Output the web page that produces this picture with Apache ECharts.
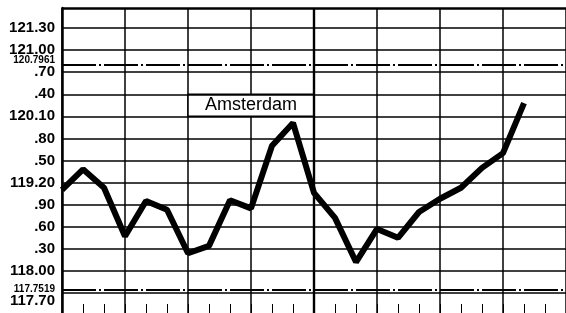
<!DOCTYPE html>
<html>
<head>
<meta charset="utf-8">
<script src="https://cdn.jsdelivr.net/npm/echarts@6/dist/echarts.min.js"></script>
<style>
  html, body { margin: 0; padding: 0; background: #fff; }
  #chart { width: 566px; height: 313px; }
</style>
</head>
<body>
<div id="chart"></div>
<script>
// x positions (25 slots, 3 per grid column)
var periods = ['1', '2', '3', '4', '5', '6', '7', '8', '9', '10', '11', '12', '13',
  '14', '15', '16', '17', '18', '19', '20', '21', '22', '23', '24', '25'];
// Amsterdam values
var amsterdam = [119.10, 119.38, 119.13, 118.47, 118.95, 118.83, 118.24, 118.34, 118.96, 118.85,
  119.70, 120.01, 119.06, 118.72, 118.12, 118.57, 118.45, 118.80, 118.98, 119.13, 119.40, 119.60, 120.28];
// horizontal levels and their labels
var yLevels = [121.30, 121.00, 120.7961, 120.70, 120.40, 120.10, 119.80, 119.50, 119.20,
  118.90, 118.60, 118.30, 118.00, 117.7519, 117.70];
var yLabels = ['121.30', '121.00', '120.7961', '.70', '.40', '120.10', '.80', '.50', '119.20',
  '.90', '.60', '.30', '118.00', '117.7519', '117.70'];
var specialLevels = [120.7961, 117.7519];
var seriesName = 'Amsterdam';
var boxFrom = '7', boxTo = '13', boxTop = 120.40, boxBottom = 120.10;
var midColumn = '13';

var chart = echarts.init(document.getElementById('chart'), null, { renderer: 'canvas' });

var levelLines = yLevels.map(function (v, i) {
  var special = specialLevels.indexOf(v) >= 0;
  var va = 'middle';
  if (yLabels[i] === '117.70') va = 'top';
  if (yLabels[i] === '120.7961') va = 'bottom';
  return {
    yAxis: v,
    lineStyle: special ? { color: '#000', width: 2.2, type: [34, 3, 2, 3] } : { color: '#000', width: 1.5, type: 'solid' },
    label: {
      show: true,
      position: 'start',
      distance: 7,
      formatter: yLabels[i],
      fontFamily: 'Liberation Sans, Arial, sans-serif',
      fontSize: special ? 10 : 15,
      fontWeight: 'bold',
      color: '#000',
      verticalAlign: va
    }
  };
});
// top border and thick middle column line
levelLines.push({ yAxis: 121.572, lineStyle: { color: '#000', width: 2.5, type: 'solid' }, label: { show: false } });
levelLines.push({ xAxis: midColumn, lineStyle: { color: '#000', width: 2.4, type: 'solid' }, label: { show: false } });

var option = {
  animation: false,
  backgroundColor: '#fff',
  grid: { left: 62, right: 0, top: 8, bottom: 0, containLabel: false },
  xAxis: {
    type: 'category',
    data: periods,
    boundaryGap: false,
    axisLine: { show: false },
    axisTick: { show: true, inside: true, length: 9, interval: 0, lineStyle: { color: '#000', width: 1 } },
    axisLabel: { show: false },
    splitLine: {
      show: true,
      interval: function (index) { return index % 3 === 0; },
      lineStyle: { color: '#000', width: 1.5 }
    }
  },
  yAxis: {
    type: 'value',
    min: 117.428,
    max: 121.572,
    axisLine: { show: true, lineStyle: { color: '#000', width: 2.5 } },
    axisTick: { show: false },
    axisLabel: { show: false },
    splitLine: { show: false }
  },
  series: [
    {
      name: 'levels',
      type: 'line',
      data: [],
      z: 1,
      silent: true,
      markLine: { symbol: 'none', silent: true, animation: false, data: levelLines }
    },
    {
      name: 'box',
      type: 'line',
      data: [],
      z: 3,
      silent: true,
      markArea: {
        silent: true,
        itemStyle: { color: '#fff', borderColor: '#000', borderWidth: 1.5 },
        label: {
          show: true,
          position: 'inside',
          formatter: seriesName,
          fontFamily: 'Liberation Sans, Arial, sans-serif',
          fontSize: 18,
          color: '#000'
        },
        data: [[{ xAxis: boxFrom, yAxis: boxTop }, { xAxis: boxTo, yAxis: boxBottom }]]
      }
    },
    {
      name: seriesName,
      type: 'line',
      data: amsterdam,
      z: 5,
      symbol: 'none',
      lineStyle: { color: '#000', width: 6 }
    }
  ]
};

chart.setOption(option);
</script>
</body>
</html>
